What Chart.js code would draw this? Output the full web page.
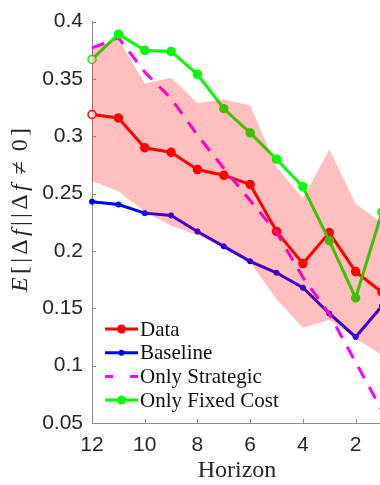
<!DOCTYPE html>
<html>
<head>
<meta charset="utf-8">
<script src="https://cdn.jsdelivr.net/npm/chart.js@4.4.1/dist/chart.umd.min.js"></script>
<style>
  html, body { margin: 0; padding: 0; background: #fff; overflow: hidden; width: 380px; height: 485px; }
  #wrap { position: absolute; left: 0; top: 0; width: 390px; height: 485px; }
</style>
</head>
<body>
<div id="wrap"><canvas id="c" width="390" height="485"></canvas></div>
<script>
// Horizon values (x), plotted right-to-left
const horizon = [12, 11, 10, 9, 8, 7, 6, 5, 4, 3, 2, 1];

// Series values
const dataSeries   = [0.319, 0.316, 0.290, 0.286, 0.271, 0.266, 0.258, 0.217, 0.189, 0.216, 0.182, 0.164];
const baseline     = [0.243, 0.2405, 0.233, 0.231, 0.217, 0.204, 0.191, 0.181, 0.168, 0.1455, 0.125, 0.152];
const onlyStrategic = [0.377, 0.386, 0.356, 0.333, 0.301, 0.272, 0.244, 0.216, 0.177, 0.145, 0.103, 0.061];
const onlyFixedCost = [0.367, 0.389, 0.375, 0.374, 0.354, 0.324, 0.303, 0.280, 0.256, 0.209, 0.159, 0.234];

// Confidence band around the data
const bandUpper = [0.376, 0.385, 0.346, 0.351, 0.329, 0.332, 0.327, 0.273, 0.246, 0.2885, 0.241, 0.2245];
const bandLower = [0.261, 0.252, 0.2345, 0.222, 0.214, 0.203, 0.190, 0.158, 0.133, 0.140, 0.124, 0.109];

// Tick values
const xTicks = [12, 10, 8, 6, 4, 2];
const yTicks = [0.05, 0.1, 0.15, 0.2, 0.25, 0.3, 0.35, 0.4];

const RED = '#ff0000', BLUE = '#0000ff', MAGENTA = '#ff00ff', GREEN = '#00ff00';
const AXIS_GRAY = '#8c8c8c';
const TEXT_DARK = '#262626';

const pts = vals => horizon.map((h, i) => ({ x: h, y: vals[i] }));
const firstHollow = color => horizon.map((h, i) => i === 0 ? '#ffffff' : color);

// Inward tick marks on the left and bottom axes
const innerTicks = {
  id: 'innerTicks',
  beforeDatasetsDraw(chart) {
    const { ctx, chartArea: a, scales: { x, y } } = chart;
    ctx.save();
    ctx.strokeStyle = AXIS_GRAY;
    ctx.lineWidth = 1;
    ctx.beginPath();
    yTicks.forEach(v => {
      const py = Math.round(y.getPixelForValue(v)) + 0.5;
      ctx.moveTo(a.left, py); ctx.lineTo(a.left + 4, py);
    });
    xTicks.forEach(v => {
      const px = Math.round(x.getPixelForValue(v)) + 0.5;
      ctx.moveTo(px, a.bottom); ctx.lineTo(px, a.bottom - 4);
    });
    ctx.stroke();
    ctx.restore();
  }
};

// Axis titles: serif x label and a mixed italic/roman math y label
const axisTitles = {
  id: 'axisTitles',
  afterDraw(chart) {
    const { ctx, chartArea: a } = chart;
    ctx.save();
    ctx.fillStyle = TEXT_DARK;
    ctx.font = '24px "Liberation Serif"';
    ctx.textAlign = 'center';
    ctx.textBaseline = 'middle';
    ctx.fillText('Horizon', (a.left + a.right) / 2, 471);

    const pieces = [
      { t: 'E', it: true }, { t: '[' }, { t: '|' }, { t: 'Δ' }, { t: 'f', it: true },
      { t: '|' }, { t: '|' }, { t: 'Δ' }, { t: 'f', it: true },
      { t: '≠', rel: true }, { t: '0' }, { t: ']' }
    ];
    const size = 24;
    const fontOf = p => (p.it ? 'italic ' : '') + size + 'px "Liberation Serif"';
    const widths = pieces.map(p => { ctx.font = fontOf(p); return ctx.measureText(p.t).width; });
    const relSpace = size * 0.28;
    const target = 164;
    const base = widths.reduce((s, w) => s + w, 0) + 2 * relSpace;
    const gap = Math.max(0, (target - base) / (pieces.length - 1));
    ctx.translate(21, 210);
    ctx.rotate(-Math.PI / 2);
    ctx.textAlign = 'left';
    ctx.textBaseline = 'middle';
    let cx = -target / 2;
    pieces.forEach((p, i) => {
      if (p.rel) cx += relSpace;
      ctx.font = fontOf(p);
      ctx.fillText(p.t, cx, 0);
      cx += widths[i] + gap;
      if (p.rel) cx += relSpace;
    });
    ctx.restore();
  }
};

// Legend in the lower-left corner of the plot
const legendEntries = [
  { label: 'Data', color: RED, r: 4.5, dashed: false },
  { label: 'Baseline', color: BLUE, r: 3, dashed: false },
  { label: 'Only Strategic', color: MAGENTA, r: 0, dashed: true },
  { label: 'Only Fixed Cost', color: GREEN, r: 4.5, dashed: false }
];
const insetLegend = {
  id: 'insetLegend',
  afterDraw(chart) {
    const { ctx } = chart;
    ctx.save();
    const x0 = 105, x1 = 138, textX = 140, y0 = 329, step = 23.7;
    legendEntries.forEach((e, i) => {
      const y = y0 + i * step;
      ctx.strokeStyle = e.color;
      ctx.lineWidth = 3;
      ctx.beginPath();
      if (e.dashed) {
        ctx.moveTo(x0, y); ctx.lineTo(x0 + 8, y);
        ctx.moveTo(x1 - 8, y); ctx.lineTo(x1, y);
      } else {
        ctx.moveTo(x0, y); ctx.lineTo(x1, y);
      }
      ctx.stroke();
      if (e.r > 0) {
        ctx.fillStyle = e.color;
        ctx.beginPath();
        ctx.arc((x0 + x1) / 2, y, e.r, 0, Math.PI * 2);
        ctx.fill();
      }
      ctx.fillStyle = '#111';
      ctx.font = '21px "Liberation Serif"';
      ctx.textAlign = 'left';
      ctx.textBaseline = 'middle';
      ctx.fillText(e.label, textX, y + 1);
    });
    ctx.restore();
  }
};

new Chart(document.getElementById('c'), {
  type: 'line',
  data: {
    datasets: [
      { label: 'band upper', data: pts(bandUpper), borderColor: 'rgba(0,0,0,0)', borderWidth: 1,
        pointRadius: 0, fill: '+1', backgroundColor: 'rgba(255,0,0,0.25)', order: 0, tension: 0 },
      { label: 'band lower', data: pts(bandLower), borderColor: 'rgba(0,0,0,0)', borderWidth: 1,
        pointRadius: 0, fill: false, order: 0, tension: 0 },
      { label: 'Only Fixed Cost', data: pts(onlyFixedCost), borderColor: GREEN, borderWidth: 3,
        pointRadius: 4, pointBorderWidth: 1.5, pointBorderColor: GREEN,
        pointBackgroundColor: firstHollow(GREEN), fill: false, order: 1, clip: false },
      { label: 'Only Strategic', data: pts(onlyStrategic), borderColor: MAGENTA, borderWidth: 3,
        borderDash: [13, 10], pointRadius: 0, fill: false, order: 2, clip: false },
      { label: 'Baseline', data: pts(baseline), borderColor: BLUE, borderWidth: 3,
        pointRadius: 2.6, pointBorderWidth: 1, pointBorderColor: BLUE,
        pointBackgroundColor: BLUE, fill: false, order: 3, clip: false },
      { label: 'Data', data: pts(dataSeries), borderColor: RED, borderWidth: 3,
        pointRadius: 4, pointBorderWidth: 1.5, pointBorderColor: RED,
        pointBackgroundColor: firstHollow(RED), fill: false, order: 4, clip: false }
    ]
  },
  options: {
    responsive: false,
    animation: false,
    devicePixelRatio: 1,
    events: [],
    layout: { padding: { top: 15, right: 8, left: 0, bottom: 0 } },
    plugins: { legend: { display: false }, tooltip: { enabled: false } },
    scales: {
      x: {
        type: 'linear', min: 1, max: 12, reverse: true,
        afterBuildTicks: s => { s.ticks = xTicks.map(v => ({ value: v })); },
        afterFit: s => { s.height = 62; },
        grid: { display: false, drawTicks: false },
        border: { color: AXIS_GRAY, width: 1 },
        ticks: { font: { family: 'Liberation Sans', size: 21 }, color: TEXT_DARK, padding: 10,
                 maxRotation: 0, autoSkip: false }
      },
      y: {
        type: 'linear', min: 0.05, max: 0.4,
        afterBuildTicks: s => { s.ticks = yTicks.map(v => ({ value: v })); },
        afterFit: s => { s.width = 92; },
        grid: { display: false, drawTicks: false },
        border: { color: AXIS_GRAY, width: 1 },
        ticks: { font: { family: 'Liberation Sans', size: 21 }, color: TEXT_DARK, padding: 9,
                 callback: v => String(Number(v.toFixed(2))) }
      }
    }
  },
  plugins: [innerTicks, axisTitles, insetLegend]
});
</script>
</body>
</html>
